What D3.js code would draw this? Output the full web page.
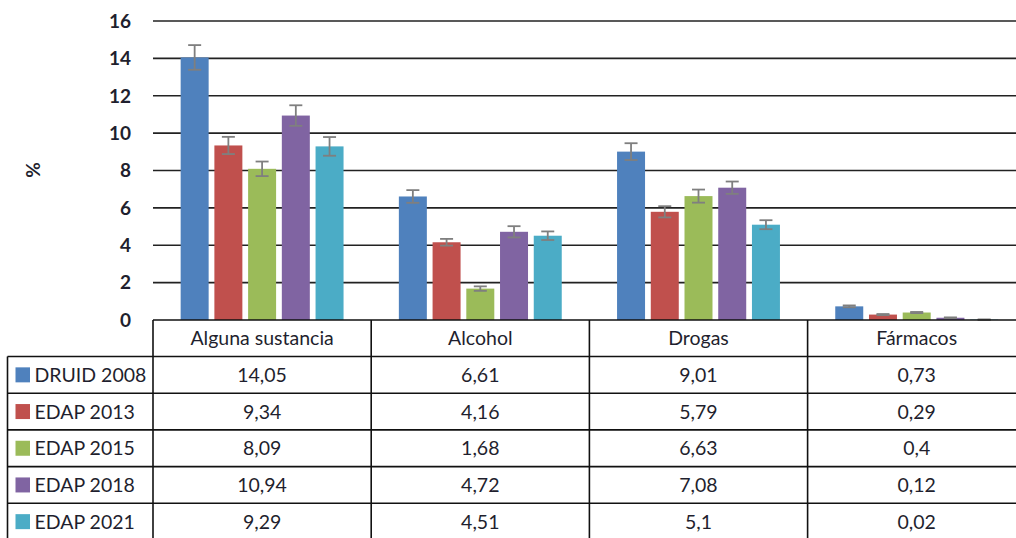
<!DOCTYPE html>
<html>
<head>
<meta charset="utf-8">
<script src="https://cdn.jsdelivr.net/npm/d3@7/dist/d3.min.js"></script>
<style>
  html, body { margin: 0; padding: 0; background: #fff; }
  svg { display: block; font-family: Lato, "Open Sans", sans-serif; }
</style>
</head>
<body>
<svg id="chart" width="1016" height="538"></svg>
<script>
// Prevalence (%) by substance type and survey
const categories = ["Alguna sustancia", "Alcohol", "Drogas", "Fármacos"];
const seriesNames = ["DRUID 2008", "EDAP 2013", "EDAP 2015", "EDAP 2018", "EDAP 2021"];
const seriesColors = ["#4f81bd", "#c0504d", "#9bbb59", "#8064a2", "#4bacc6"];
const druid2008 = [14.05, 6.61, 9.01, 0.73];
const edap2013 = [9.34, 4.16, 5.79, 0.29];
const edap2015 = [8.09, 1.68, 6.63, 0.4];
const edap2018 = [10.94, 4.72, 7.08, 0.12];
const edap2021 = [9.29, 4.51, 5.1, 0.02];
// half-width of the confidence interval for each value
const errDruid2008 = [0.66, 0.34, 0.45, 0.05];
const errEdap2013 = [0.46, 0.18, 0.3, 0.03];
const errEdap2015 = [0.39, 0.12, 0.35, 0.03];
const errEdap2018 = [0.55, 0.3, 0.33, 0.02];
const errEdap2021 = [0.5, 0.23, 0.24, 0.01];
const yTicks = [0, 2, 4, 6, 8, 10, 12, 14, 16];

const values = [druid2008, edap2013, edap2015, edap2018, edap2021];
const errors = [errDruid2008, errEdap2013, errEdap2015, errEdap2018, errEdap2021];

const svg = d3.select("#chart");
const plotLeft = 153, colW = 218.2;
const legendLeft = 7.5;
const yTop = 21, yZero = 320;
const headerH = 36.5, rowH = 36.7;

const x0 = d3.scaleBand().domain(categories)
  .range([plotLeft, plotLeft + colW * categories.length]).padding(0);
const x1 = d3.scaleBand().domain(d3.range(seriesNames.length))
  .range([0, colW]).paddingInner(0.17).paddingOuter(0.82);
const y = d3.scaleLinear().domain([0, 16]).range([yZero, yTop]);

const fmt = v => String(v).replace(".", ",");
const ink = "#1f1f2e";
const cellFont = 19.5;

// horizontal gridlines
svg.append("g").selectAll("line").data(yTicks.filter(t => t > 0)).join("line")
  .attr("x1", plotLeft).attr("x2", 1016)
  .attr("y1", d => y(d)).attr("y2", d => y(d))
  .attr("stroke", "#222").attr("stroke-width", 1.7);

// y axis tick labels
svg.append("g").selectAll("text").data(yTicks).join("text")
  .attr("x", 131).attr("y", d => y(d)).attr("dy", "0.36em")
  .attr("text-anchor", "end").attr("font-size", 19).attr("font-weight", "bold")
  .attr("fill", ink).text(d => d);

// axis title
svg.append("text").attr("transform", "translate(33,170) rotate(-90)")
  .attr("text-anchor", "middle").attr("dy", "0.36em")
  .attr("font-size", 19).attr("font-weight", "bold").attr("fill", ink).text("%");

// bars
const groups = svg.append("g").selectAll("g").data(categories).join("g")
  .attr("transform", d => `translate(${x0(d)},0)`);

groups.selectAll("rect").data((c, ci) => values.map((s, si) => ({ si, v: s[ci] })))
  .join("rect")
  .attr("x", d => x1(d.si)).attr("width", x1.bandwidth())
  .attr("y", d => y(d.v)).attr("height", d => y(0) - y(d.v))
  .attr("fill", d => seriesColors[d.si]);

// error bars
const eb = groups.selectAll("g.err")
  .data((c, ci) => values.map((s, si) => ({ si, v: s[ci], e: errors[si][ci] })))
  .join("g").attr("class", "err")
  .attr("stroke", "#7f7f7f").attr("stroke-width", 1.8);
const cx = d => x1(d.si) + x1.bandwidth() / 2;
eb.append("line").attr("x1", cx).attr("x2", cx)
  .attr("y1", d => y(d.v + d.e)).attr("y2", d => y(Math.max(0, d.v - d.e)));
eb.append("line").attr("x1", d => cx(d) - 6.5).attr("x2", d => cx(d) + 6.5)
  .attr("y1", d => y(d.v + d.e)).attr("y2", d => y(d.v + d.e));
eb.append("line").attr("x1", d => cx(d) - 6.5).attr("x2", d => cx(d) + 6.5)
  .attr("y1", d => y(Math.max(0, d.v - d.e))).attr("y2", d => y(Math.max(0, d.v - d.e)));

// data table
const table = svg.append("g").attr("stroke", "#111").attr("stroke-width", 1.6);
const tableRight = plotLeft + colW * categories.length;
const rowTop = i => yZero + headerH + i * rowH;
table.append("line").attr("x1", plotLeft).attr("x2", tableRight).attr("y1", yZero).attr("y2", yZero);
categories.forEach(c => {
  table.append("line").attr("x1", x0(c)).attr("x2", x0(c))
    .attr("y1", yZero).attr("y2", 540);
});
table.append("line").attr("x1", legendLeft).attr("x2", legendLeft)
  .attr("y1", rowTop(0)).attr("y2", 540);
d3.range(seriesNames.length).forEach(i => {
  table.append("line").attr("x1", legendLeft).attr("x2", tableRight)
    .attr("y1", rowTop(i)).attr("y2", rowTop(i));
});

// header labels
svg.append("g").selectAll("text").data(categories).join("text")
  .attr("x", d => x0(d) + colW / 2).attr("y", yZero + headerH / 2).attr("dy", "0.36em")
  .attr("text-anchor", "middle").attr("font-size", cellFont).attr("fill", ink).text(d => d);

// legend column
const leg = svg.append("g").selectAll("g").data(seriesNames).join("g")
  .attr("transform", (d, i) => `translate(0,${rowTop(i) + rowH / 2})`);
leg.append("rect").attr("x", 15.5).attr("y", -7.5).attr("width", 14.5).attr("height", 15)
  .attr("fill", (d, i) => seriesColors[i]);
leg.append("text").attr("x", 34.5).attr("dy", "0.36em").attr("font-size", cellFont)
  .attr("fill", ink).text(d => d);

// value cells
values.forEach((s, si) => {
  svg.append("g").selectAll("text").data(s).join("text")
    .attr("x", (d, ci) => x0(categories[ci]) + colW / 2)
    .attr("y", rowTop(si) + rowH / 2).attr("dy", "0.36em")
    .attr("text-anchor", "middle").attr("font-size", cellFont).attr("fill", ink)
    .text(fmt);
});
</script>
</body>
</html>
